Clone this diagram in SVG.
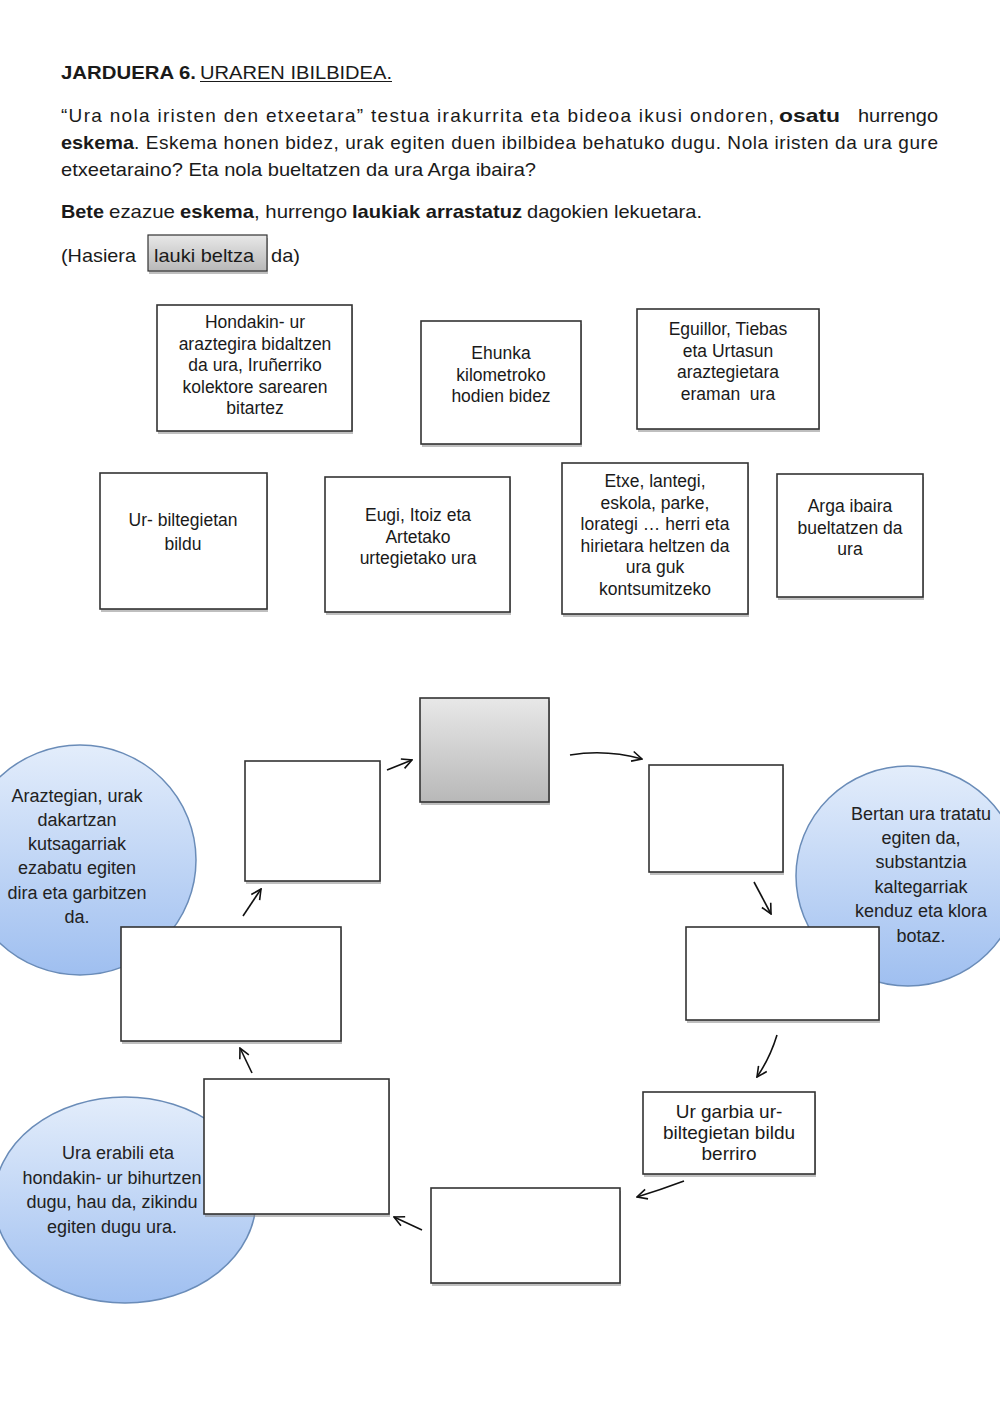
<svg xmlns="http://www.w3.org/2000/svg" width="1000" height="1413" viewBox="0 0 1000 1413">
<style>
.t{font-family:"Liberation Sans",Arial,sans-serif;fill:#1a1a1a}
.p{font-size:19px}
.b{font-weight:bold}
.bx{font-size:17.5px;text-anchor:middle}
.cx{font-size:18px;text-anchor:middle;fill:#222}
.box{fill:#fff;stroke:#333;stroke-width:1.6}
.sh{fill:#8a8a8a;opacity:0.55}
.circ{fill:url(#blue);stroke:#6a8cb8;stroke-width:1.5}
.arr{fill:none;stroke:#111;stroke-width:1.6;marker-end:url(#ah)}
</style>
<defs>
<linearGradient id="blue" x1="0" y1="0" x2="0" y2="1">
<stop offset="0" stop-color="#e3edfb"/>
<stop offset="1" stop-color="#9fbff0"/>
</linearGradient>
<linearGradient id="gray" x1="0" y1="0" x2="0" y2="1">
<stop offset="0" stop-color="#e8e8e8"/>
<stop offset="1" stop-color="#b8b8b8"/>
</linearGradient>
<marker id="ah" viewBox="0 0 12 12" refX="11" refY="6" markerWidth="12" markerHeight="12" markerUnits="userSpaceOnUse" orient="auto">
<path d="M1,1 L11,6 L1,11" fill="none" stroke="#111" stroke-width="1.6"/>
</marker>
</defs>
<rect width="1000" height="1413" fill="#fff"/>

<g id="header">
<text class="t p b" x="61" y="79" textLength="135" lengthAdjust="spacingAndGlyphs">JARDUERA 6.</text>
<text class="t p" x="200" y="79" textLength="192" lengthAdjust="spacingAndGlyphs">URAREN IBILBIDEA.</text>
<line x1="200" y1="81.5" x2="392" y2="81.5" stroke="#1a1a1a" stroke-width="1.2"/>
<text class="t p" x="61" y="122" textLength="713" lengthAdjust="spacing">“Ura nola iristen den etxeetara” testua irakurrita eta bideoa ikusi ondoren,</text>
<text class="t p b" x="779" y="122" textLength="61" lengthAdjust="spacingAndGlyphs">osatu</text>
<text class="t p" x="858" y="122" textLength="80" lengthAdjust="spacingAndGlyphs">hurrengo</text>
<text class="t p b" x="61" y="149" textLength="73" lengthAdjust="spacingAndGlyphs">eskema</text>
<text class="t p" x="134" y="149" textLength="804" lengthAdjust="spacing">. Eskema honen bidez, urak egiten duen ibilbidea behatuko dugu. Nola iristen da ura gure</text>
<text class="t p" x="61" y="176" textLength="475" lengthAdjust="spacingAndGlyphs">etxeetaraino? Eta nola bueltatzen da ura Arga ibaira?</text>
<text class="t p b" x="61" y="218" textLength="43" lengthAdjust="spacingAndGlyphs">Bete</text>
<text class="t p" x="109" y="218" textLength="66" lengthAdjust="spacingAndGlyphs">ezazue</text>
<text class="t p b" x="180" y="218" textLength="74" lengthAdjust="spacingAndGlyphs">eskema</text>
<text class="t p" x="254" y="218" textLength="93" lengthAdjust="spacingAndGlyphs">, hurrengo</text>
<text class="t p b" x="352" y="218" textLength="170" lengthAdjust="spacingAndGlyphs">laukiak arrastatuz</text>
<text class="t p" x="527" y="218" textLength="175" lengthAdjust="spacingAndGlyphs">dagokien lekuetara.</text>
<text class="t p" x="61" y="262" textLength="75" lengthAdjust="spacingAndGlyphs">(Hasiera</text>
<rect x="149" y="238" width="119" height="36" class="sh"/>
<rect x="148" y="235" width="119" height="36" fill="url(#gray)" stroke="#333" stroke-width="1.2"/>
<text class="t p" x="154" y="262" textLength="100" lengthAdjust="spacingAndGlyphs">lauki beltza</text>
<text class="t p" x="271" y="262" textLength="29" lengthAdjust="spacingAndGlyphs">da)</text>
</g>

<g id="card1">
<rect x="158" y="308" width="195" height="126" class="sh"/>
<rect x="157" y="305" width="195" height="126" class="box"/>
<text class="t bx" x="255"><tspan x="255" y="328">Hondakin- ur</tspan><tspan x="255" y="349.5">araztegira bidaltzen</tspan><tspan x="255" y="371">da ura, Iruñerriko</tspan><tspan x="255" y="392.5">kolektore sarearen</tspan><tspan x="255" y="414">bitartez</tspan></text>
</g>
<g id="card2">
<rect x="422" y="324" width="160" height="123" class="sh"/>
<rect x="421" y="321" width="160" height="123" class="box"/>
<text class="t bx" x="501"><tspan x="501" y="359">Ehunka</tspan><tspan x="501" y="380.5">kilometroko</tspan><tspan x="501" y="402">hodien bidez</tspan></text>
</g>
<g id="card3">
<rect x="638" y="312" width="182" height="120" class="sh"/>
<rect x="637" y="309" width="182" height="120" class="box"/>
<text class="t bx" x="728"><tspan x="728" y="335">Eguillor, Tiebas</tspan><tspan x="728" y="356.5">eta Urtasun</tspan><tspan x="728" y="378">araztegietara</tspan><tspan x="728" y="399.5">eraman&#160; ura</tspan></text>
</g>
<g id="card4">
<rect x="101" y="476" width="167" height="136" class="sh"/>
<rect x="100" y="473" width="167" height="136" class="box"/>
<text class="t bx" x="183"><tspan x="183" y="526">Ur- biltegietan</tspan><tspan x="183" y="550">bildu</tspan></text>
</g>
<g id="card5">
<rect x="326" y="480" width="185" height="135" class="sh"/>
<rect x="325" y="477" width="185" height="135" class="box"/>
<text class="t bx" x="418"><tspan x="418" y="521">Eugi, Itoiz eta</tspan><tspan x="418" y="542.5">Artetako</tspan><tspan x="418" y="564">urtegietako ura</tspan></text>
</g>
<g id="card6">
<rect x="563" y="466" width="186" height="151" class="sh"/>
<rect x="562" y="463" width="186" height="151" class="box"/>
<text class="t bx" x="655"><tspan x="655" y="487">Etxe, lantegi,</tspan><tspan x="655" y="508.5">eskola, parke,</tspan><tspan x="655" y="530">lorategi … herri eta</tspan><tspan x="655" y="551.5">hirietara heltzen da</tspan><tspan x="655" y="573">ura guk</tspan><tspan x="655" y="594.5">kontsumitzeko</tspan></text>
</g>
<g id="card7">
<rect x="778" y="477" width="146" height="123" class="sh"/>
<rect x="777" y="474" width="146" height="123" class="box"/>
<text class="t bx" x="850"><tspan x="850" y="512">Arga ibaira</tspan><tspan x="850" y="533.5">bueltatzen da</tspan><tspan x="850" y="555">ura</tspan></text>
</g>

<g id="note-araztegian">
<ellipse cx="80" cy="860" rx="116" ry="115" class="circ"/>
<text class="t cx" x="77"><tspan x="77" y="802">Araztegian, urak</tspan><tspan x="77" y="826">dakartzan</tspan><tspan x="77" y="850">kutsagarriak</tspan><tspan x="77" y="874">ezabatu egiten</tspan><tspan x="77" y="899">dira eta garbitzen</tspan><tspan x="77" y="923">da.</tspan></text>
</g>
<g id="note-bertan">
<ellipse cx="908" cy="876" rx="112" ry="110" class="circ"/>
<text class="t cx" x="921"><tspan x="921" y="820">Bertan ura tratatu</tspan><tspan x="921" y="844">egiten da,</tspan><tspan x="921" y="868">substantzia</tspan><tspan x="921" y="893">kaltegarriak</tspan><tspan x="921" y="917">kenduz eta klora</tspan><tspan x="921" y="942">botaz.</tspan></text>
</g>
<g id="note-ura">
<ellipse cx="125" cy="1200" rx="131" ry="103" class="circ"/>
<text class="t cx" x="112"><tspan x="118" y="1159">Ura erabili eta</tspan><tspan x="112" y="1184">hondakin- ur bihurtzen</tspan><tspan x="112" y="1208">dugu, hau da, zikindu</tspan><tspan x="112" y="1233">egiten dugu ura.</tspan></text>
</g>

<g id="slot-start">
<rect x="421" y="701" width="129" height="104" class="sh"/>
<rect x="420" y="698" width="129" height="104" fill="url(#gray)" stroke="#333" stroke-width="1.6"/>
</g>
<g id="slot-a">
<rect x="246" y="764" width="135" height="120" class="sh"/>
<rect x="245" y="761" width="135" height="120" class="box"/>
</g>
<g id="slot-b">
<rect x="650" y="768" width="134" height="107" class="sh"/>
<rect x="649" y="765" width="134" height="107" class="box"/>
</g>
<g id="slot-c">
<rect x="687" y="930" width="193" height="93" class="sh"/>
<rect x="686" y="927" width="193" height="93" class="box"/>
</g>
<g id="box-ur-garbia">
<rect x="644" y="1095" width="172" height="82" class="sh"/>
<rect x="643" y="1092" width="172" height="82" class="box"/>
<text class="t bx" x="729" style="font-size:19px"><tspan x="729" y="1118">Ur garbia ur-</tspan><tspan x="729" y="1139">biltegietan bildu</tspan><tspan x="729" y="1160">berriro</tspan></text>
</g>
<g id="slot-e">
<rect x="432" y="1191" width="189" height="95" class="sh"/>
<rect x="431" y="1188" width="189" height="95" class="box"/>
</g>
<g id="slot-f">
<rect x="205" y="1082" width="185" height="135" class="sh"/>
<rect x="204" y="1079" width="185" height="135" class="box"/>
</g>
<g id="slot-g">
<rect x="122" y="930" width="220" height="114" class="sh"/>
<rect x="121" y="927" width="220" height="114" class="box"/>
</g>

<g id="connectors">
<path class="arr" d="M387,770 L412,760"/>
<path class="arr" d="M570,755 Q606,749 642,759"/>
<path class="arr" d="M754,882 L771,914"/>
<path class="arr" d="M777,1035 Q770,1058 757,1077"/>
<path class="arr" d="M684,1181 Q660,1190 637,1197"/>
<path class="arr" d="M422,1230 L394,1217"/>
<path class="arr" d="M252,1073 L240,1048"/>
<path class="arr" d="M243,916 L261,889"/>
</g>
</svg>
